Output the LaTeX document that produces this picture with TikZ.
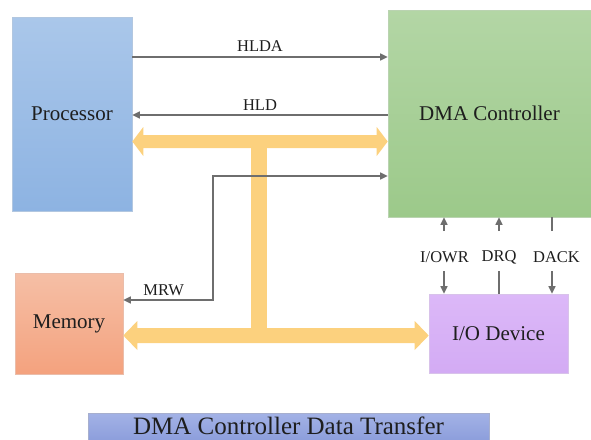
\documentclass[tikz,border=0pt]{standalone}
\usepackage{fontspec}
\setmainfont{Liberation Serif}
\usetikzlibrary{arrows.meta,calc}

\definecolor{procTop}{HTML}{AAC7EA}
\definecolor{procBot}{HTML}{8DB3E2}
\definecolor{dmaTop}{HTML}{B3D6A5}
\definecolor{dmaBot}{HTML}{9CC98A}
\definecolor{memTop}{HTML}{F5BFA6}
\definecolor{memBot}{HTML}{F4A27E}
\definecolor{ioTop}{HTML}{DCB8F8}
\definecolor{ioBot}{HTML}{D3ABF4}
\definecolor{capTop}{HTML}{A3B2E6}
\definecolor{capBot}{HTML}{8799D9}
\definecolor{busCol}{HTML}{FCD17E}
\definecolor{sigCol}{HTML}{6E6E6E}
\definecolor{txtCol}{HTML}{1E1E1E}

\tikzset{
  block/.style={rectangle, inner sep=0pt, line width=0.6pt, text=txtCol,
    font=\fontsize{21}{25}\selectfont},
  sig/.style={draw=sigCol, line width=1.5pt,
    arrows={-Triangle[length=7.5pt,width=7pt]}},
  sigboth/.style={sig, arrows={Triangle[length=7.5pt,width=7pt]-Triangle[length=7.5pt,width=7pt]}},
  sigplain/.style={draw=sigCol, line width=1.5pt},
  lbl/.style={text=txtCol, inner sep=1pt, font=\fontsize{16.5}{19}\selectfont},
  bus/.style={fill=busCol, draw=none}
}

\begin{document}
\begin{tikzpicture}[x=1pt,y=-1pt]
\useasboundingbox (0,0) rectangle (591,439);

% functional blocks
\node[block, minimum width=120pt, minimum height=194pt,
  top color=procTop, bottom color=procBot, draw=procBot!90!black!60]
  (proc) at (72,114) {Processor};
\node[block, minimum width=203pt, minimum height=207pt,
  top color=dmaTop, bottom color=dmaBot, draw=dmaBot!90!black!60]
  (dma) at (489.5,113.5) {DMA Controller};
\node[block, minimum width=108pt, minimum height=101pt,
  top color=memTop, bottom color=memBot, draw=memBot!90!black!60]
  (mem) at (69,323.5) {Memory};
\node[block, minimum width=139pt, minimum height=79pt,
  top color=ioTop, bottom color=ioBot, draw=ioBot!90!black!60]
  (io) at (498.5,333.5) {I/O Device};

% caption bar (runs off the lower edge)
\node[block, minimum width=401pt, minimum height=34pt,
  top color=capTop, bottom color=capBot, draw=capBot!80!black!60,
  font=\fontsize{25}{29}\selectfont, text depth=8.5pt]
  (cap) at (288.5,430) {DMA Controller Data Transfer};

% levels of the horizontal connectors
\coordinate (lvHLDA) at (0,57);
\coordinate (lvHLD)  at (0,115);
\coordinate (lvBusA) at (0,141.5);
\coordinate (lvMRW)  at (0,176);
\coordinate (lvBusB) at (0,335.5);
\coordinate (mrwCorner) at (213,300);

% data bus: vertical trunk
\coordinate (trunkTop) at (259,141.5);
\coordinate (trunkBot) at (259,335.5);
\fill[bus] ($(trunkTop)+(-8,0)$) rectangle ($(trunkBot)+(8,0)$);

% data bus: upper double arrow, Processor <-> DMA Controller
\coordinate (bA) at (proc.east |- lvBusA);
\coordinate (bB) at (dma.west |- lvBusA);
\fill[bus] (bA) -- ($(bA)+(11,-14.5)$) -- ($(bA)+(11,-6.5)$)
  -- ($(bB)+(-11,-6.5)$) -- ($(bB)+(-11,-14.5)$) -- (bB)
  -- ($(bB)+(-11,14.5)$) -- ($(bB)+(-11,6.5)$)
  -- ($(bA)+(11,6.5)$) -- ($(bA)+(11,14.5)$) -- cycle;

% data bus: lower double arrow, Memory <-> I/O Device
\coordinate (cA) at (mem.east |- lvBusB);
\coordinate (cB) at (io.west |- lvBusB);
\fill[bus] (cA) -- ($(cA)+(14,-14.5)$) -- ($(cA)+(14,-7.5)$)
  -- ($(cB)+(-14,-7.5)$) -- ($(cB)+(-14,-14.5)$) -- (cB)
  -- ($(cB)+(-14,14.5)$) -- ($(cB)+(-14,7.5)$)
  -- ($(cA)+(14,7.5)$) -- ($(cA)+(14,14.5)$) -- cycle;

% control signals between Processor and DMA Controller
\draw[sig] (proc.east |- lvHLDA) -- node[lbl, above=4pt] {HLDA} (dma.west |- lvHLDA);
\draw[sig] (dma.west |- lvHLD) -- node[lbl, above=3pt] {HLD} (proc.east |- lvHLD);

% memory read/write
\draw[sigboth] (dma.west |- lvMRW) -| (mrwCorner)
  -- node[lbl, above=3pt, pos=0.55] {MRW} (mem.east |- mrwCorner);

% handshake signals between DMA Controller and I/O Device
\node[lbl] (owr)  at (444.5,257) {I/OWR};
\node[lbl] (drq)  at (499,257) {DRQ};
\node[lbl] (dack) at (556.5,257) {DACK};

\coordinate (owrUp) at (444,231);
\coordinate (owrDn) at (444,271);
\coordinate (drqUp) at (499,231);
\coordinate (drqDn) at (499,271);
\coordinate (dackUp) at (552,231);
\coordinate (dackDn) at (552,271);

\draw[sig] (owrUp) -- (dma.south -| owrUp);
\draw[sig] (owrDn) -- (io.north -| owrDn);
\draw[sig] (drqUp) -- (dma.south -| drqUp);
\draw[sigplain] (drqDn) -- (io.north -| drqDn);
\draw[sigplain] (dackUp) -- (dma.south -| dackUp);
\draw[sig] (dackDn) -- (io.north -| dackDn);
\end{tikzpicture}
\end{document}
